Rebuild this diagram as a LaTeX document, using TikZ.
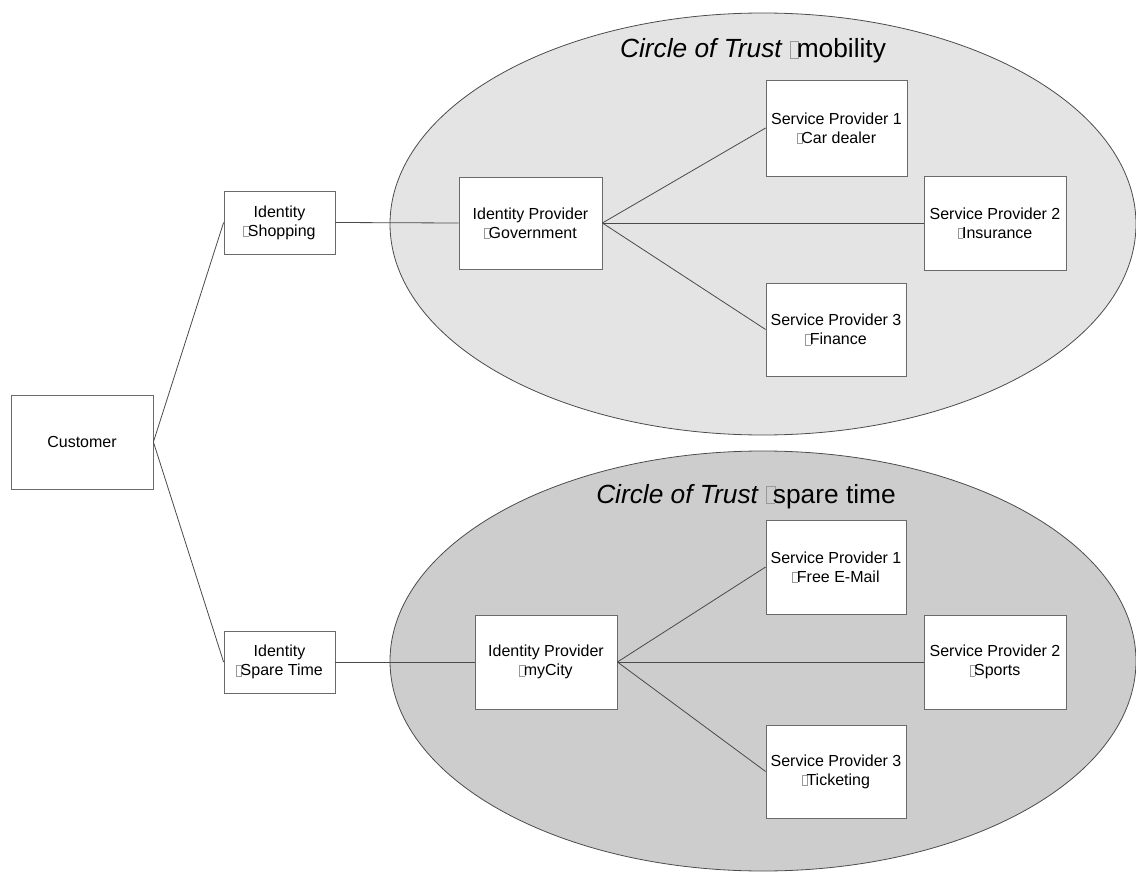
\documentclass[tikz,border=0pt]{standalone}
\usepackage{fontspec}
\setmainfont{Liberation Sans}
\usepackage{xcolor}
\definecolor{cotlight}{HTML}{E4E4E4}
\definecolor{cotdark}{HTML}{CDCDCD}
\definecolor{edge}{HTML}{4A4A4A}
\definecolor{frame}{HTML}{6A6A6A}
% placeholder glyph box printed before the second line of each label
\newcommand\nogl{{\color{black!40}\fboxsep=0pt\fboxrule=0.5pt\fbox{\rule{0pt}{0.62em}\hspace{0.3em}}}\kern-0.08em}
\begin{document}
\begin{tikzpicture}[x=1pt,y=-1pt,
  entity/.style={draw=frame, line width=0.8pt, fill=white, inner sep=0pt,
    align=center, font=\fontsize{16}{19}\selectfont},
  link/.style={draw=edge, line width=0.8pt},
  cot/.style={draw=black!70, line width=0.8pt},
  cottitle/.style={anchor=base, font=\fontsize{26.3}{30}\selectfont}]
\useasboundingbox (0,0) rectangle (1136,872);

% the two circles of trust
\draw[cot, fill=cotlight] (763,224) ellipse [x radius=373, y radius=211];
\draw[cot, fill=cotdark] (763,661) ellipse [x radius=373, y radius=210];
\node[cottitle] (t1) at (753,58) {\textit{Circle of Trust} \nogl mobility};
\node[cottitle] (t2) at (746,503) {\textit{Circle of Trust} \nogl spare time};

% customer and identities
\node[entity, minimum width=142, minimum height=94] (cust) at (82,442) {Customer};
\node[entity, minimum width=111, minimum height=63] (ids) at (279.5,222.5) {Identity\\\nogl Shopping};
\node[entity, minimum width=111, minimum height=62] (idt) at (279.5,662) {Identity\\\nogl Spare Time};

% mobility circle
\node[entity, minimum width=143, minimum height=92] (gov) at (530.5,223) {Identity Provider\\\nogl Government};
\node[entity, minimum width=141, minimum height=96] (spa1) at (836.5,128) {Service Provider 1\\\nogl Car dealer};
\node[entity, minimum width=142, minimum height=94] (spa2) at (995,223) {Service Provider 2\\\nogl Insurance};
\node[entity, minimum width=140, minimum height=93] (spa3) at (836,329.5) {Service Provider 3\\\nogl Finance};

% spare time circle
\node[entity, minimum width=142, minimum height=94] (city) at (546,662) {Identity Provider\\\nogl myCity};
\node[entity, minimum width=140, minimum height=94] (spb1) at (836,567) {Service Provider 1\\\nogl Free E-Mail};
\node[entity, minimum width=142, minimum height=94] (spb2) at (995,662) {Service Provider 2\\\nogl Sports};
\node[entity, minimum width=140, minimum height=93] (spb3) at (836,771.5) {Service Provider 3\\\nogl Ticketing};

% connectors
\draw[link] (cust.east) -- (ids.west);
\draw[link] (cust.east) -- (idt.west);
\draw[link] (ids.east) -- (gov.west);
\draw[link] (idt.east) -- (city.west);
\draw[link] (gov.east) -- (spa1.west);
\draw[link] (gov.east) -- (spa2.west);
\draw[link] (gov.east) -- (spa3.west);
\draw[link] (city.east) -- (spb1.west);
\draw[link] (city.east) -- (spb2.west);
\draw[link] (city.east) -- (spb3.west);
\end{tikzpicture}
\end{document}
